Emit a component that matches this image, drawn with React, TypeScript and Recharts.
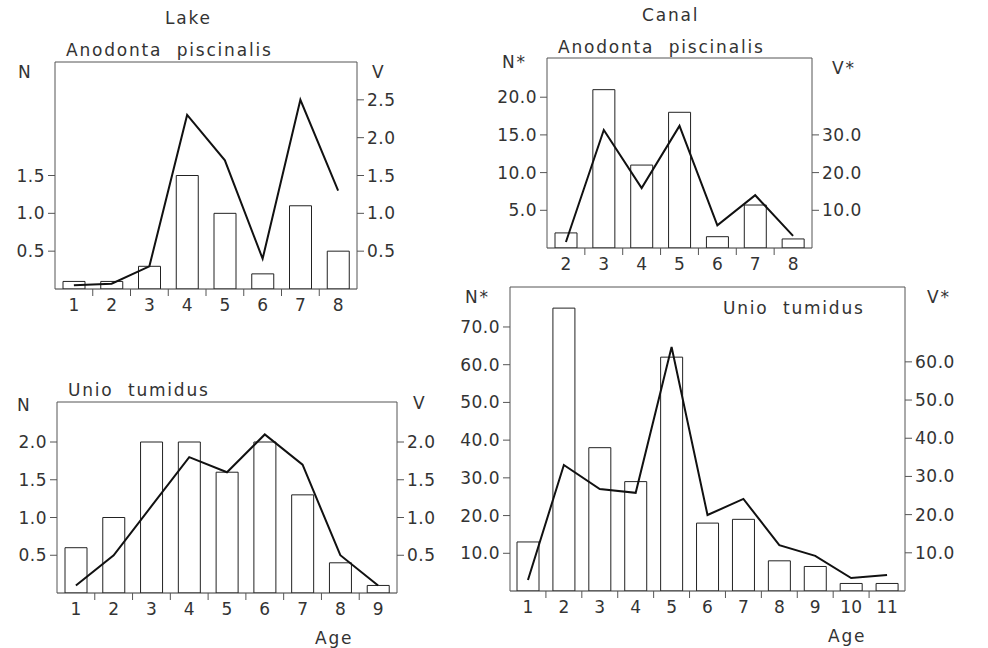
import React from "react";
import { ComposedChart, Bar, Line, XAxis, YAxis, ReferenceLine } from "recharts";

// Lake — Anodonta piscinalis
const lakeAnodontaAge = [1, 2, 3, 4, 5, 6, 7, 8];
const lakeAnodontaN = [0.1, 0.1, 0.3, 1.5, 1.0, 0.2, 1.1, 0.5];
const lakeAnodontaV = [0.05, 0.07, 0.3, 2.3, 1.7, 0.4, 2.5, 1.3];

// Lake — Unio tumidus
const lakeUnioAge = [1, 2, 3, 4, 5, 6, 7, 8, 9];
const lakeUnioN = [0.6, 1.0, 2.0, 2.0, 1.6, 2.0, 1.3, 0.4, 0.1];
const lakeUnioV = [0.1, 0.5, 1.15, 1.8, 1.6, 2.1, 1.7, 0.5, 0.1];

// Canal — Anodonta piscinalis
const canalAnodontaAge = [2, 3, 4, 5, 6, 7, 8];
const canalAnodontaN = [2, 21, 11, 18, 1.5, 5.7, 1.2];
const canalAnodontaV = [1.6, 31.3, 15.9, 32.4, 6, 14, 3.2];

// Canal — Unio tumidus
const canalUnioAge = [1, 2, 3, 4, 5, 6, 7, 8, 9, 10, 11];
const canalUnioN = [13, 75, 38, 29, 62, 18, 19, 8, 6.5, 2, 2];
const canalUnioV = [2.9, 33, 26.7, 25.7, 63.9, 19.9, 24.1, 12, 9.2, 3.4, 4.2];

// tick labels
const ticksHalf3 = [0.5, 1.0, 1.5];
const ticksHalf5 = [0.5, 1.0, 1.5, 2.0, 2.5];
const ticksHalf4 = [0.5, 1.0, 1.5, 2.0];
const ticksFive = [5, 10, 15, 20];
const ticksTen3 = [10, 20, 30];
const ticksTen7 = [10, 20, 30, 40, 50, 60, 70];
const ticksTen6 = [10, 20, 30, 40, 50, 60];

const FONT = "'DejaVu Sans', sans-serif";
const INK = "#333";
const FRAME = "#555";

type Box = { l: number; t: number; r: number; b: number };

type PanelProps = {
  box: Box;
  ages: number[];
  n: number[];
  v: number[];
  nMax: number;
  vMax: number;
  nTicks: number[];
  vTicks: number[];
};

function Panel({ box, ages, n, v, nMax, vMax, nTicks, vTicks }: PanelProps) {
  const padL = 60;
  const padR = 60;
  const padT = 10;
  const padB = 40;
  const w = box.r - box.l + padL + padR;
  const h = box.b - box.t + padT + padB;
  const band = (box.r - box.l) / ages.length;
  const data = ages.map((age, i) => ({ age, n: n[i], v: v[i] }));

  const ageTick = (props: any) => {
    const { x, y, payload, index } = props;
    return (
      <g>
        {index < ages.length - 1 && (
          <line x1={x + band / 2} x2={x + band / 2} y1={y} y2={y + 7} stroke={FRAME} />
        )}
        <text
          x={x}
          y={y + 16}
          textAnchor="middle"
          dominantBaseline="central"
          fontSize={17}
          fontFamily={FONT}
          fill={INK}
        >
          {payload.value}
        </text>
      </g>
    );
  };

  const yTick = { fontSize: 17, fill: INK, fontFamily: FONT, letterSpacing: 0.5 };

  return (
    <div style={{ position: "absolute", left: box.l - padL, top: box.t - padT }}>
      <ComposedChart width={w} height={h} data={data} margin={{ top: padT, right: 0, bottom: 0, left: 0 }}>
        <XAxis
          dataKey="age"
          height={padB}
          tickSize={0}
          tickMargin={0}
          interval={0}
          tick={ageTick}
          axisLine={{ stroke: "#333" }}
        />
        <YAxis
          yAxisId="n"
          type="number"
          domain={[0, nMax]}
          ticks={nTicks}
          width={padL}
          allowDataOverflow
          tickFormatter={(t: number) => t.toFixed(1)}
          tick={yTick}
          tickSize={7}
          tickMargin={3}
          axisLine={{ stroke: FRAME }}
          tickLine={{ stroke: FRAME }}
        />
        <YAxis
          yAxisId="v"
          orientation="right"
          type="number"
          domain={[0, vMax]}
          ticks={vTicks}
          width={padR}
          allowDataOverflow
          tickFormatter={(t: number) => t.toFixed(1)}
          tick={yTick}
          tickSize={7}
          tickMargin={3}
          axisLine={{ stroke: FRAME }}
          tickLine={{ stroke: FRAME }}
        />
        <ReferenceLine yAxisId="n" y={nMax} stroke={FRAME} />
        <Bar
          yAxisId="n"
          dataKey="n"
          barSize={22}
          fill="#fff"
          stroke="#222"
          strokeWidth={1}
          isAnimationActive={false}
        />
        <Line
          yAxisId="v"
          dataKey="v"
          type="linear"
          stroke="#111"
          strokeWidth={2}
          dot={false}
          isAnimationActive={false}
        />
      </ComposedChart>
    </div>
  );
}

function Label({ x, y, text }: { x: number; y: number; text: string }) {
  return (
    <span
      style={{
        position: "absolute",
        left: x,
        top: y - 10,
        fontFamily: FONT,
        fontSize: 17,
        lineHeight: "20px",
        letterSpacing: 1.8,
        color: INK,
        whiteSpace: "pre",
      }}
    >
      {text}
    </span>
  );
}

export default function App() {
  return (
    <div style={{ position: "absolute", left: 0, top: 0, width: 988, height: 648, background: "#fff" }}>
      <Panel
        box={{ l: 55, t: 62, r: 357, b: 289 }}
        ages={lakeAnodontaAge}
        n={lakeAnodontaN}
        v={lakeAnodontaV}
        nMax={3.0}
        vMax={3.0}
        nTicks={ticksHalf3}
        vTicks={ticksHalf5}
      />
      <Panel
        box={{ l: 57, t: 402, r: 397, b: 593 }}
        ages={lakeUnioAge}
        n={lakeUnioN}
        v={lakeUnioV}
        nMax={2.53}
        vMax={2.53}
        nTicks={ticksHalf4}
        vTicks={ticksHalf4}
      />
      <Panel
        box={{ l: 547, t: 58, r: 812, b: 248 }}
        ages={canalAnodontaAge}
        n={canalAnodontaN}
        v={canalAnodontaV}
        nMax={25.2}
        vMax={50.4}
        nTicks={ticksFive}
        vTicks={ticksTen3}
      />
      <Panel
        box={{ l: 510, t: 287, r: 905, b: 591 }}
        ages={canalUnioAge}
        n={canalUnioN}
        v={canalUnioV}
        nMax={80.6}
        vMax={79.6}
        nTicks={ticksTen7}
        vTicks={ticksTen6}
      />

      <Label x={165} y={18} text="Lake" />
      <Label x={66} y={50} text="Anodonta  piscinalis" />
      <Label x={18} y={72} text="N" />
      <Label x={372} y={72} text="V" />

      <Label x={68} y={390} text="Unio  tumidus" />
      <Label x={17} y={405} text="N" />
      <Label x={413} y={403} text="V" />
      <Label x={315} y={638} text="Age" />

      <Label x={642} y={15} text="Canal" />
      <Label x={558} y={47} text="Anodonta  piscinalis" />
      <Label x={502} y={62} text="N*" />
      <Label x={832} y={68} text="V*" />

      <Label x={465} y={297} text="N*" />
      <Label x={927} y={297} text="V*" />
      <Label x={723} y={308} text="Unio  tumidus" />
      <Label x={828} y={636} text="Age" />
    </div>
  );
}
